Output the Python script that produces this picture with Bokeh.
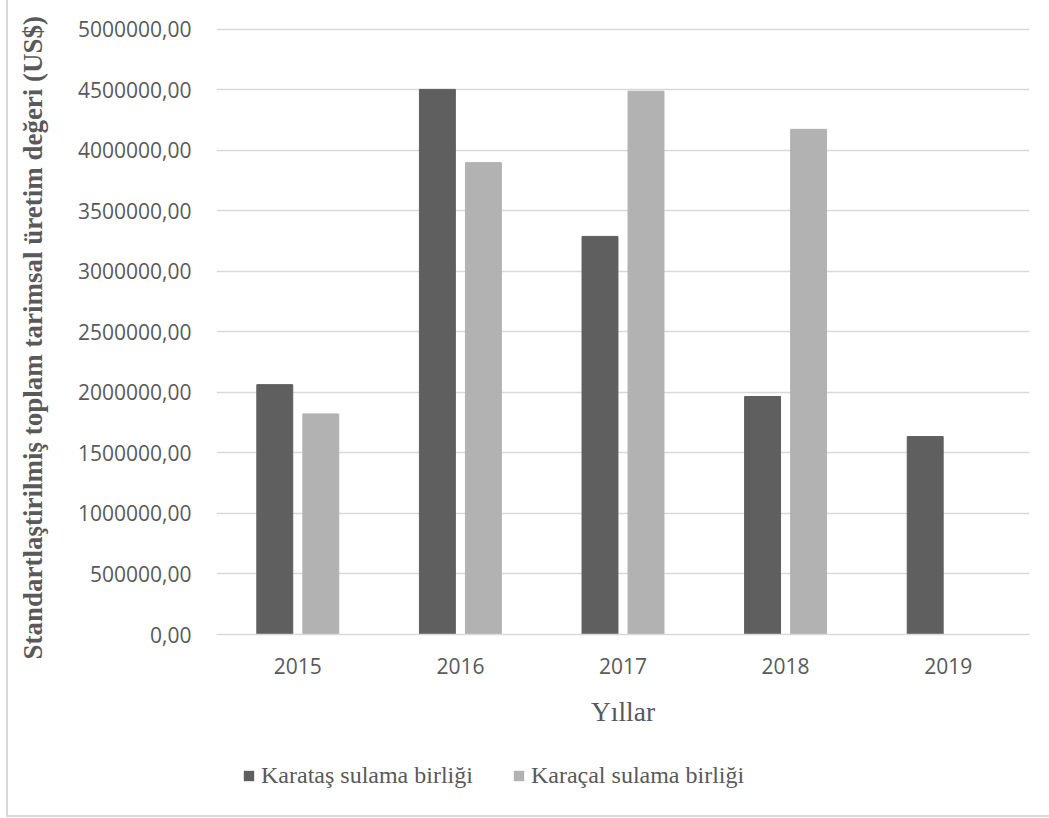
from bokeh.plotting import figure
from bokeh.models import (ColumnDataSource, FactorRange, Range1d, FixedTicker,
                          CustomJSTickFormatter, Legend)
from bokeh.layouts import column
from bokeh.transform import dodge
from bokeh.embed import file_html
from bokeh.resources import INLINE

years = ["2015", "2016", "2017", "2018", "2019"]
karatas = [2065000, 4505000, 3290000, 1967000, 1636000]
karacal = [1823000, 3900000, 4490000, 4175000, 0]
y_ticks = [0, 500000, 1000000, 1500000, 2000000, 2500000, 3000000,
           3500000, 4000000, 4500000, 5000000]
series_names = ["Karataş sulama birliği", "Karaçal sulama birliği"]
y_title = "Standartlaştirilmiş toplam tarimsal üretim değeri (US$)"
x_title = "Yıllar"

source = ColumnDataSource(dict(year=years, karatas=karatas, karacal=karacal))

TEXT = "#595959"
GRID = "#d9d9d9"
DARK = "#5f5f5f"
LIGHT = "#b2b2b2"

p = figure(width=1041, height=740, x_range=FactorRange(*years),
           y_range=Range1d(0, 5016500), output_backend="svg",
           toolbar_location=None,
           min_border_left=208, min_border_right=20,
           min_border_top=27, min_border_bottom=106)
p.outline_line_color = None
p.background_fill_color = "white"
p.border_fill_color = "white"

r1 = p.vbar(x=dodge("year", -0.1415, range=p.x_range), top="karatas", width=0.221,
            source=source, fill_color=DARK, line_color=DARK)
r2 = p.vbar(x=dodge("year", 0.1415, range=p.x_range), top="karacal", width=0.221,
            source=source, fill_color=LIGHT, line_color=LIGHT)

# axes
p.yaxis.ticker = FixedTicker(ticks=y_ticks)
p.yaxis.formatter = CustomJSTickFormatter(code="return tick.toFixed(2).replace('.', ',');")
p.yaxis.axis_line_color = None
p.yaxis.major_tick_line_color = None
p.yaxis.minor_tick_line_color = None
p.yaxis.major_label_text_font = "Open Sans"
p.yaxis.major_label_text_font_size = "21px"
p.yaxis.major_label_text_color = TEXT
p.yaxis.major_label_standoff = 19
# two trailing no-break spaces nudge the (bottom-to-top) title slightly downwards
p.yaxis.axis_label = y_title + "\u00a0" * 2
p.yaxis.axis_label_text_font = "Liberation Serif"
p.yaxis.axis_label_text_font_style = "bold"
p.yaxis.axis_label_text_font_size = "27px"
p.yaxis.axis_label_text_color = TEXT
p.yaxis.axis_label_standoff = 27

p.xaxis.axis_line_color = GRID
p.xaxis.axis_line_width = 1.5
p.xaxis.major_tick_line_color = None
p.xaxis.minor_tick_line_color = None
p.xaxis.major_label_text_font = "Open Sans"
p.xaxis.major_label_text_font_size = "21px"
p.xaxis.major_label_text_color = TEXT
p.xaxis.major_label_standoff = 17
p.xaxis.axis_label = x_title
p.xaxis.axis_label_text_font = "Liberation Serif"
p.xaxis.axis_label_text_font_style = "normal"
p.xaxis.axis_label_text_font_size = "27.5px"
p.xaxis.axis_label_text_color = TEXT
p.xaxis.axis_label_standoff = 19

p.xgrid.grid_line_color = None
p.ygrid.grid_line_color = GRID
p.ygrid.grid_line_width = 1.5

# legend strip below the chart (its bars lie far outside its visible y range)
p2 = figure(width=1041, height=75, x_range=p.x_range, y_range=Range1d(1e8, 2e8),
            output_backend="svg", toolbar_location=None,
            x_axis_location=None, y_axis_location=None,
            min_border_left=0, min_border_right=0, min_border_top=0, min_border_bottom=0)
p2.outline_line_color = None
p2.grid.visible = False
l1 = p2.vbar(x=dodge("year", -0.1415, range=p2.x_range), top="karatas", width=0.221,
             source=source, fill_color=DARK, line_color=None)
l2 = p2.vbar(x=dodge("year", 0.1415, range=p2.x_range), top="karacal", width=0.221,
             source=source, fill_color=LIGHT, line_color=None)

legend = Legend(items=[(series_names[0], [l1]), (series_names[1], [l2])],
                orientation="horizontal", location=(26, 26))
legend.label_text_font = "Liberation Serif"
legend.label_text_font_size = "24px"
legend.label_text_color = TEXT
legend.glyph_width = 13
legend.glyph_height = 13
legend.label_standoff = 6
legend.spacing = 39
legend.border_line_color = None
legend.background_fill_alpha = 0
legend.margin = 0
legend.padding = 0
p2.add_layout(legend, "center")

layout = column(p, p2, spacing=0)
layout.styles = {"margin-left": "6px", "border-left": "2px solid #d9d9d9",
                 "border-bottom": "2px solid #d9d9d9"}
open("out.html", "w").write(file_html(layout, INLINE))
